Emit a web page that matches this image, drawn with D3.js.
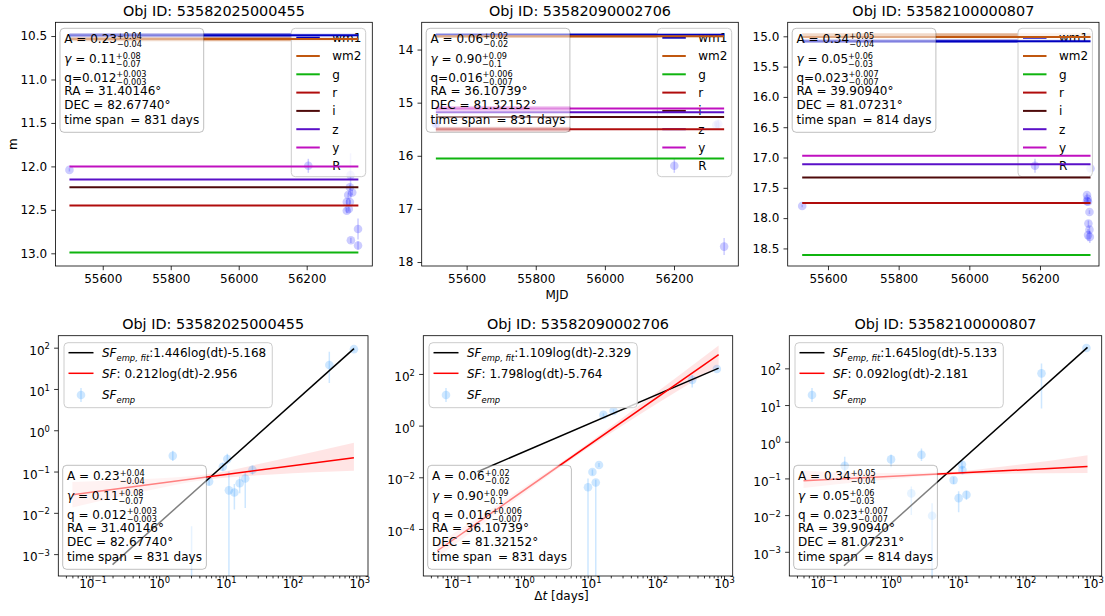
<!DOCTYPE html>
<html>
<head>
<meta charset="utf-8">
<script src="https://cdn.jsdelivr.net/npm/d3@7"></script>
<style>
  body { margin: 0; background: #fff; }
  text { font-family: "DejaVu Sans", sans-serif; white-space: pre; }
</style>
</head>
<body>
<svg id="fig" width="1105" height="616"></svg>
<script>
// ---------------- data ----------------
const objIds = ["53582025000455", "53582090002706", "53582100000807"];

const bandNames  = ["wm1", "wm2", "g", "r", "i", "z", "y"];
const bandColors = ["#0000c0", "#c0570f", "#0fb40f", "#b00c0c", "#4e0a0a", "#5a10c8", "#c010c0"];

// mean magnitude of each band (order of bandNames), one list per object
const meanMag0 = [10.49, 10.535, 12.99, 12.45, 12.24, 12.15, 12.00];
const meanMag1 = [13.72, 13.75, 16.05, 15.50, 15.27, 15.18, 15.11];
const meanMag2 = [15.08, 15.01, 18.61, 17.75, 17.33, 17.11, 16.97];

// observing window, MJD
const mjdStart = [55502, 55511, 55527];
const mjdEnd   = [56352, 56345, 56343];

// scatter range of individual bands: band index, faint / bright limit, MJD range
const spreadBand0 = [0, 1],       spreadLo0 = [10.465, 10.51],        spreadHi0 = [10.515, 10.56];
const spreadFrom0 = [55502, 55502], spreadTo0 = [56352, 56352];
const spreadBand1 = [0, 1, 6, 3], spreadLo1 = [13.695, 13.73, 15.065, 15.455], spreadHi1 = [13.745, 13.78, 15.155, 15.545];
const spreadFrom1 = [55511, 55511, 55511, 55511], spreadTo1 = [56345, 56345, 55900, 55900];
const spreadBand2 = [1, 0],       spreadLo2 = [14.95, 15.05],          spreadHi2 = [15.03, 15.11];
const spreadFrom2 = [55527, 55527], spreadTo2 = [56343, 56343];

// R-band photometry
const rMjd0 = [55502, 56329, 56327, 56322, 56334, 56318, 56327, 56318, 56324, 56351, 56330, 56351];
const rMag0 = [12.04, 12.10, 12.24, 12.33, 12.30, 12.41, 12.41, 12.51, 12.49, 12.72, 12.85, 12.91];
const rErr0 = [0.02, 0.25, 0.03, 0.03, 0.03, 0.03, 0.03, 0.03, 0.03, 0.12, 0.03, 0.05];

const rMjd1 = [55511, 56322, 56328, 56345];
const rMag1 = [15.40, 15.42, 15.40, 17.71];
const rErr1 = [0.05, 0.05, 0.08, 0.16];

const rMjd2 = [55527, 56333, 56335, 56336, 56333, 56340, 56337, 56340, 56336, 56341, 56343];
const rMag2 = [17.80, 17.62, 17.68, 17.73, 17.72, 17.90, 18.09, 18.19, 18.28, 18.31, 17.18];
const rErr2 = [0.02, 0.03, 0.03, 0.03, 0.03, 0.03, 0.05, 0.05, 0.1, 0.1, 0.05];

// DRW fit parameters: value, +err, -err
const ampVal = ["0.23", "0.06", "0.34"], ampUp = ["0.04", "0.02", "0.05"], ampLo = ["0.04", "0.02", "0.04"];
const gamVal = ["0.11", "0.90", "0.05"], gamUp = ["0.08", "0.09", "0.06"], gamLo = ["0.07", "0.1", "0.03"];
const qVal   = ["0.012", "0.016", "0.023"], qUp = ["0.003", "0.006", "0.007"], qLo = ["0.003", "0.007", "0.007"];
const raDeg  = ["31.40146", "36.10739", "39.90940"];
const decDeg = ["82.67740", "81.32152", "81.07231"];
const spanDays = [831, 831, 814];

// structure function fits, ln SF = slope * ln(dt) + intercept
const empFitSlope = [1.446, 1.109, 1.645], empFitIcpt = [-5.168, -2.329, -5.133];
const sfSlope     = [0.212, 1.798, 0.092], sfIcpt     = [-2.956, -5.764, -2.181];
const empFitDt = [0.2, 830];
const sfDt     = [0.05, 830];

// confidence band of SF
const sfBandDt = [0.05, 0.5, 5, 50, 830];
const sfBandLo0 = [0.0135, 0.031, 0.063, 0.085, 0.105];
const sfBandHi0 = [0.056, 0.065, 0.085, 0.18, 0.50];
const sfBandLo1 = [7.8e-6, 6.4e-4, 0.047, 2.35, 200];
const sfBandHi1 = [2.6e-5, 1.27e-3, 0.068, 5.4, 1250];
const sfBandLo2 = [0.055, 0.085, 0.12, 0.135, 0.14];
const sfBandHi2 = [0.165, 0.14, 0.145, 0.215, 0.43];

// empirical structure function: dt, SF, lower / upper end of error bar
const empDt0 = [1.6, 5.6, 9.0, 10.5, 11.1, 13.4, 16.1, 19.5, 25, 3.06, 355, 830];
const empSf0 = [0.24, 0.057, 0.13, 0.2, 0.035, 0.031, 0.052, 0.068, 0.11, 1e-4, 38, 92];
const empLo0 = [0.18, 0.046, 0.105, 0.15, 1e-6, 0.012, 0.03, 0.013, 0.085, 1e-6, 14, 82];
const empHi0 = [0.32, 0.07, 0.16, 0.27, 0.10, 0.05, 0.075, 0.10, 0.14, 0.0047, 80, 103];

const empDt1 = [9.1, 10.6, 11.9, 13.3, 15.5, 22, 333, 780];
const empSf1 = [0.0041, 0.016, 0.0063, 0.030, 2.6, 3.7, 59, 155];
const empLo1 = [1e-8, 0.012, 1e-8, 0.025, 2.2, 3.2, 30, 140];
const empHi1 = [0.009, 0.02, 0.008, 0.036, 3.0, 4.2, 90, 175];

const empDt2 = [0.205, 1.0, 2.0, 2.83, 4.07, 8.5, 10.1, 11.3, 11.5, 13.2, 172, 800];
const empSf2 = [0.22, 0.33, 0.039, 0.44, 0.0096, 0.09, 0.029, 0.24, 0.17, 0.036, 73, 360];
const empLo2 = [0.09, 0.2, 0.01, 0.3, 1e-6, 0.07, 0.012, 0.15, 0.13, 0.026, 8, 330];
const empHi2 = [0.39, 0.45, 0.06, 0.65, 0.021, 0.11, 0.045, 0.3, 0.21, 0.046, 135, 390];

// tick values
const mjdTicks = [55600, 55800, 56000, 56200];
const magTicks0 = [10.5, 11.0, 11.5, 12.0, 12.5, 13.0];
const magTicks1 = [14, 15, 16, 17, 18];
const magTicks2 = [15.0, 15.5, 16.0, 16.5, 17.0, 17.5, 18.0, 18.5];
const dtExp = [-1, 0, 1, 2, 3];
const sfExp0 = [-3, -2, -1, 0, 1, 2];
const sfExp1 = [-4, -2, 0, 2];
const sfExp2 = [-3, -2, -1, 0, 1, 2];

// ---------------- layout ----------------
const W = 1105, H = 616;
const MINUS = "\u2212";
const svg = d3.select("#fig");
svg.append("rect").attr("width", W).attr("height", H).attr("fill", "#fff");
const defs = svg.append("defs");

const topFrames = [
  { l: 55.5, r: 372.3, t: 22.3, b: 266, x: [55461, 56393], y: [10.342, 13.146] },
  { l: 421.7, r: 738.3, t: 22.3, b: 266, x: [55470, 56386], y: [13.487, 18.075] },
  { l: 787.7, r: 1099, t: 22.3, b: 266, x: [55486, 56367], y: [14.769, 18.79] }
];
const botFrames = [
  { l: 58.3, r: 368, t: 335.7, b: 576, y: [-3.53, 2.29] },
  { l: 423.3, r: 732.7, t: 335.7, b: 576, y: [-5.82, 3.48] },
  { l: 789.3, r: 1101.7, t: 335.7, b: 576, y: [-3.66, 2.89] }
];
const dtLogDomain = [-1.512, 3.13];

const meanMags = [meanMag0, meanMag1, meanMag2];
const spreads = [
  { band: spreadBand0, lo: spreadLo0, hi: spreadHi0, from: spreadFrom0, to: spreadTo0 },
  { band: spreadBand1, lo: spreadLo1, hi: spreadHi1, from: spreadFrom1, to: spreadTo1 },
  { band: spreadBand2, lo: spreadLo2, hi: spreadHi2, from: spreadFrom2, to: spreadTo2 }
];
const rMjd = [rMjd0, rMjd1, rMjd2], rMag = [rMag0, rMag1, rMag2], rErr = [rErr0, rErr1, rErr2];
const magTicks = [magTicks0, magTicks1, magTicks2];
const magFmt = [d3.format(".1f"), d3.format("d"), d3.format(".1f")];
const bandLo = [sfBandLo0, sfBandLo1, sfBandLo2], bandHi = [sfBandHi0, sfBandHi1, sfBandHi2];
const empDt = [empDt0, empDt1, empDt2], empSf = [empSf0, empSf1, empSf2];
const empLo = [empLo0, empLo1, empLo2], empHi = [empHi0, empHi1, empHi2];
const sfExps = [sfExp0, sfExp1, sfExp2];

const R_COLOR = "rgb(0,0,255)", R_ALPHA = 0.2;
const EMP_COLOR = "rgb(30,144,255)", EMP_ALPHA = 0.22;

// ---------------- helpers ----------------
function richText(parent, x, y, parts, size) {
  const t = parent.append("text").attr("x", x).attr("y", y).attr("font-size", size).attr("fill", "#000");
  let shift = 0;
  parts.forEach(p => {
    const s = t.append("tspan").text(p.t);
    let target = 0;
    if (p.sub) target = size * 0.32;
    if (p.sup) target = -size * 0.42;
    if (target !== shift) { s.attr("dy", target - shift); shift = target; }
    if (p.sub || p.sup) s.attr("font-size", size * 0.7);
    if (p.it) s.attr("font-style", "italic");
  });
  return t;
}

// main text followed by a stacked superscript / subscript pair
function scripted(parent, x, y, main, up, lo, size) {
  const t = richText(parent, x, y, main, size);
  const w = t.node().getComputedTextLength();
  const s = size * 0.68;
  const a = parent.append("text").attr("x", x + w).attr("y", y - 4.4).attr("font-size", s).text(up);
  const b = parent.append("text").attr("x", x + w).attr("y", y + 3.8).attr("font-size", s).text(lo);
  return x + w + Math.max(a.node().getComputedTextLength(), b.node().getComputedTextLength());
}

function paramBox(g, x0, y0, k, qSpaced) {
  const box = g.append("g");
  const rect = box.append("rect");
  const fs = 12, tx = x0 + 4.3;
  const rows = [15, 35, 53.2, 66.6, 81, 95.3];
  let right = 0;
  right = Math.max(right, scripted(box, tx, y0 + rows[0], [{ t: "A = " + ampVal[k] }], "+" + ampUp[k], MINUS + ampLo[k], fs));
  right = Math.max(right, scripted(box, tx, y0 + rows[1], [{ t: "\u03b3", it: true }, { t: " = " + gamVal[k] }], "+" + gamUp[k], MINUS + gamLo[k], fs));
  right = Math.max(right, scripted(box, tx, y0 + rows[2], [{ t: (qSpaced ? "q = " : "q=") + qVal[k] }], "+" + qUp[k], MINUS + qLo[k], fs));
  const more = ["RA = " + raDeg[k] + "\u00b0", "DEC = " + decDeg[k] + "\u00b0", "time span \u2009= " + spanDays[k] + " days"];
  more.forEach((s, i) => {
    const t = box.append("text").attr("x", tx).attr("y", y0 + rows[3 + i]).attr("font-size", fs).text(s);
    right = Math.max(right, tx + t.node().getComputedTextLength());
  });
  rect.attr("x", x0).attr("y", y0).attr("width", right + 4.5 - x0).attr("height", 104)
    .attr("rx", 4).attr("fill", "#fff").attr("fill-opacity", 0.5)
    .attr("stroke", "#000").attr("stroke-opacity", 0.25).attr("stroke-width", 1);
}

function errMarker(g, cx, cy, color, alpha) {
  g.append("line").attr("x1", cx).attr("x2", cx).attr("y1", cy - 7).attr("y2", cy + 7)
    .attr("stroke", color).attr("stroke-opacity", alpha).attr("stroke-width", 1.5);
  g.append("circle").attr("cx", cx).attr("cy", cy).attr("r", 4.3).attr("fill", color).attr("fill-opacity", alpha);
}

function styleAxis(sel) {
  sel.select(".domain").remove();
  sel.selectAll(".tick line").attr("stroke", "#000").attr("stroke-width", 0.8);
  sel.selectAll(".tick text").attr("font-size", 12).attr("fill", "#000")
    .attr("font-family", "DejaVu Sans, sans-serif");
}

function powLabels(sel) {
  sel.selectAll(".tick text").each(function (d) {
    const t = d3.select(this);
    t.text(null);
    t.append("tspan").text("10");
    const e = Math.round(Math.log10(d));
    t.append("tspan").attr("dy", -5.5).attr("font-size", 8.4).text(e < 0 ? MINUS + (-e) : "" + e);
  });
}

// ---------------- light curves (top row) ----------------
topFrames.forEach((f, k) => {
  const g = svg.append("g");
  const x = d3.scaleLinear().domain(f.x).range([f.l, f.r]);
  const y = d3.scaleLinear().domain(f.y).range([f.t, f.b]);
  const cid = "clipT" + k;
  defs.append("clipPath").attr("id", cid).append("rect")
    .attr("x", f.l).attr("y", f.t).attr("width", f.r - f.l).attr("height", f.b - f.t);
  const under = g.append("g").attr("clip-path", `url(#${cid})`);

  // scatter range of the bands
  const sp = spreads[k];
  sp.band.forEach((b, i) => {
    under.append("rect").attr("x", x(sp.from[i])).attr("width", x(sp.to[i]) - x(sp.from[i]))
      .attr("y", y(sp.lo[i])).attr("height", y(sp.hi[i]) - y(sp.lo[i]))
      .attr("fill", bandColors[b]).attr("fill-opacity", 0.45);
  });

  // R-band points
  rMjd[k].forEach((m, i) => {
    under.append("line").attr("x1", x(m)).attr("x2", x(m))
      .attr("y1", y(rMag[k][i] - rErr[k][i])).attr("y2", y(rMag[k][i] + rErr[k][i]))
      .attr("stroke", R_COLOR).attr("stroke-opacity", R_ALPHA).attr("stroke-width", 1.5);
    under.append("circle").attr("cx", x(m)).attr("cy", y(rMag[k][i])).attr("r", 4.3)
      .attr("fill", R_COLOR).attr("fill-opacity", R_ALPHA);
  });

  // legend
  const lg = g.append("g");
  const lx = f.r - 6.6 - 74.4, ly = f.t + 6;
  lg.append("rect").attr("x", lx).attr("y", ly).attr("width", 74.4).attr("height", 148.4).attr("rx", 4)
    .attr("fill", "#fff").attr("fill-opacity", 0.8).attr("stroke", "#ccc");
  bandNames.forEach((b, i) => {
    const cy = ly + 9.4 + i * 18.3;
    lg.append("line").attr("x1", lx + 5).attr("x2", lx + 28.5).attr("y1", cy).attr("y2", cy)
      .attr("stroke", bandColors[i]).attr("stroke-width", 2);
    lg.append("text").attr("x", lx + 41).attr("y", cy + 4.4).attr("font-size", 12).text(b);
  });
  const ry = ly + 9.4 + 7 * 18.3;
  errMarker(lg, lx + 17, ry, R_COLOR, R_ALPHA);
  lg.append("text").attr("x", lx + 41).attr("y", ry + 4.4).attr("font-size", 12).text("R");

  // mean magnitude per band, drawn over the legend
  const over = g.append("g").attr("clip-path", `url(#${cid})`);
  bandNames.forEach((b, i) => {
    over.append("line").attr("x1", x(mjdStart[k])).attr("x2", x(mjdEnd[k]))
      .attr("y1", y(meanMags[k][i])).attr("y2", y(meanMags[k][i]))
      .attr("stroke", bandColors[i]).attr("stroke-width", 2);
  });

  // axes
  const ax = g.append("g").attr("transform", `translate(0,${f.b})`)
    .call(d3.axisBottom(x).tickValues(mjdTicks).tickSize(4.2).tickPadding(4.2).tickFormat(d3.format("d")));
  styleAxis(ax);
  const ay = g.append("g").attr("transform", `translate(${f.l},0)`)
    .call(d3.axisLeft(y).tickValues(magTicks[k]).tickSize(4.2).tickPadding(4.2).tickFormat(magFmt[k]));
  styleAxis(ay);
  g.append("rect").attr("x", f.l).attr("y", f.t).attr("width", f.r - f.l).attr("height", f.b - f.t)
    .attr("fill", "none").attr("stroke", "#000").attr("stroke-width", 0.8);

  // parameter box
  paramBox(g, f.l + 4.5, f.t + 6, k, false);

  // title
  g.append("text").attr("x", (f.l + f.r) / 2).attr("y", f.t - 6.5).attr("text-anchor", "middle")
    .attr("font-size", 14.4).text("Obj ID: " + objIds[k]);
});

svg.append("text").attr("transform", `translate(16.5,${(22.3 + 266) / 2}) rotate(-90)`)
  .attr("text-anchor", "middle").attr("font-size", 12).text("m");
svg.append("text").attr("x", 557).attr("y", 299).attr("text-anchor", "middle")
  .attr("font-size", 12).text("MJD");

// ---------------- structure functions (bottom row) ----------------
botFrames.forEach((f, k) => {
  const g = svg.append("g");
  const x = d3.scaleLog().domain(dtLogDomain.map(v => Math.pow(10, v))).range([f.l, f.r]);
  const y = d3.scaleLog().domain(f.y.map(v => Math.pow(10, v))).range([f.b, f.t]);
  const cid = "clipB" + k;
  defs.append("clipPath").attr("id", cid).append("rect")
    .attr("x", f.l).attr("y", f.t).attr("width", f.r - f.l).attr("height", f.b - f.t);
  const plot = g.append("g").attr("clip-path", `url(#${cid})`);

  // confidence band
  const area = d3.area().x((d, i) => x(sfBandDt[i])).y0((d, i) => y(bandLo[k][i])).y1((d, i) => y(bandHi[k][i]))
    .curve(d3.curveMonotoneX);
  plot.append("path").attr("d", area(sfBandDt)).attr("fill", "red").attr("fill-opacity", 0.1);

  // empirical SF
  empDt[k].forEach((d, i) => {
    plot.append("line").attr("x1", x(d)).attr("x2", x(d)).attr("y1", y(empLo[k][i])).attr("y2", y(empHi[k][i]))
      .attr("stroke", EMP_COLOR).attr("stroke-opacity", EMP_ALPHA).attr("stroke-width", 1.5);
    plot.append("circle").attr("cx", x(d)).attr("cy", y(empSf[k][i])).attr("r", 4.3)
      .attr("fill", EMP_COLOR).attr("fill-opacity", EMP_ALPHA);
  });

  // fits
  const fitLine = d3.line().x(d => x(d[0])).y(d => y(d[1]));
  const empPts = empFitDt.map(d => [d, Math.exp(empFitSlope[k] * Math.log(d) + empFitIcpt[k])]);
  const sfPts = sfDt.map(d => [d, Math.exp(sfSlope[k] * Math.log(d) + sfIcpt[k])]);
  plot.append("path").attr("d", fitLine(empPts)).attr("stroke", "#000").attr("stroke-width", 1.5).attr("fill", "none");
  plot.append("path").attr("d", fitLine(sfPts)).attr("stroke", "red").attr("stroke-width", 1.5).attr("fill", "none");

  // axes
  const majX = dtExp.map(e => Math.pow(10, e));
  const minX = [];
  for (let e = -2; e <= 3; e++) for (let m = 2; m <= 9; m++) {
    const v = m * Math.pow(10, e);
    if (Math.log10(v) > dtLogDomain[0] && Math.log10(v) < dtLogDomain[1]) minX.push(v);
  }
  const axm = g.append("g").attr("transform", `translate(0,${f.b})`)
    .call(d3.axisBottom(x).tickValues(minX).tickSize(2.4).tickFormat(""));
  styleAxis(axm);
  const ax = g.append("g").attr("transform", `translate(0,${f.b})`)
    .call(d3.axisBottom(x).tickValues(majX).tickSize(4.2).tickPadding(4.2));
  styleAxis(ax);
  powLabels(ax);
  ax.selectAll(".tick text").attr("y", 12).attr("dy", null);
  const ay = g.append("g").attr("transform", `translate(${f.l},0)`)
    .call(d3.axisLeft(y).tickValues(sfExps[k].map(e => Math.pow(10, e))).tickSize(4.2).tickPadding(4.2));
  styleAxis(ay);
  powLabels(ay);
  ay.selectAll(".tick text").attr("dy", "0.55em");
  g.append("rect").attr("x", f.l).attr("y", f.t).attr("width", f.r - f.l).attr("height", f.b - f.t)
    .attr("fill", "none").attr("stroke", "#000").attr("stroke-width", 0.8);

  // parameter box
  paramBox(g, f.l + 4.4, f.b - 6.7 - 104, k, true);

  // legend
  const lg = g.append("g");
  const lx = f.l + 5.7, ly = f.t + 7;
  const lrect = lg.append("rect");
  const rowsY = [ly + 10, ly + 30.6, ly + 52.3];
  let right = 0;
  lg.append("line").attr("x1", lx + 4.5).attr("x2", lx + 29.5).attr("y1", rowsY[0]).attr("y2", rowsY[0])
    .attr("stroke", "#000").attr("stroke-width", 1.5);
  let t = richText(lg, lx + 38, rowsY[0] + 4.4, [{ t: "SF", it: true }, { t: "emp, fit", it: true, sub: true },
    { t: ":" + empFitSlope[k].toFixed(3) + "log(dt)" + empFitIcpt[k].toFixed(3) }], 12);
  right = Math.max(right, lx + 38 + t.node().getComputedTextLength());
  lg.append("line").attr("x1", lx + 4.5).attr("x2", lx + 29.5).attr("y1", rowsY[1]).attr("y2", rowsY[1])
    .attr("stroke", "red").attr("stroke-width", 1.5);
  t = richText(lg, lx + 38, rowsY[1] + 4.4, [{ t: "SF", it: true }, { t: ": " + sfSlope[k].toFixed(3) + "log(dt)" + sfIcpt[k].toFixed(3) }], 12);
  right = Math.max(right, lx + 38 + t.node().getComputedTextLength());
  errMarker(lg, lx + 17, rowsY[2], EMP_COLOR, EMP_ALPHA);
  richText(lg, lx + 38, rowsY[2] + 4.4, [{ t: "SF", it: true }, { t: "emp", it: true, sub: true }], 12);
  lrect.attr("x", lx).attr("y", ly).attr("width", right + 6 - lx).attr("height", 65).attr("rx", 4)
    .attr("fill", "#fff").attr("fill-opacity", 0.8).attr("stroke", "#ccc");

  g.append("text").attr("x", (f.l + f.r) / 2).attr("y", f.t - 6.5).attr("text-anchor", "middle")
    .attr("font-size", 14.4).text("Obj ID: " + objIds[k]);
});

const dtLabel = richText(svg, 0, 600, [{ t: "\u0394" }, { t: "t", it: true }, { t: " [days]" }], 12);
dtLabel.attr("x", 561.5 - dtLabel.node().getComputedTextLength() / 2);
</script>
</body>
</html>
